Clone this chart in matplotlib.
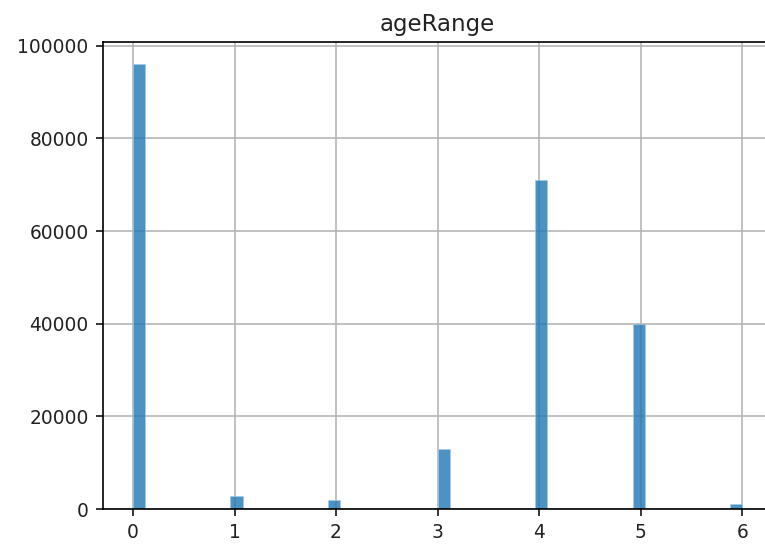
import matplotlib
matplotlib.use("Agg")
import matplotlib.pyplot as plt
import numpy as np

# ageRange codes and how many rows carry each one
age_codes = [0, 1, 2, 3, 4, 5, 6]
row_counts = [96000, 2900, 1900, 13000, 71000, 40000, 1000]

fig = plt.figure(figsize=(7.65, 5.45), dpi=100)
ax = fig.add_axes([0.134, 0.066, 0.876, 0.857])

ax.hist(age_codes, weights=row_counts, bins=50, color="#1f77b4", alpha=0.8,
        edgecolor="#9ecae8", linewidth=0.6, zorder=2)

ax.set_title("ageRange", fontsize=16.5, pad=8, color="#222222")
ax.grid(True, color="#b0b0b0", linewidth=1.1, zorder=0)
ax.set_axisbelow(True)
ax.set_xticks(range(0, 7))
ax.set_yticks(np.arange(0, 100001, 20000))
ax.tick_params(labelsize=13.4, length=5, width=1.1, pad=5, labelcolor="#222222")
for s in ax.spines.values():
    s.set_linewidth(1.2)

fig.savefig("out.png", dpi=100)
